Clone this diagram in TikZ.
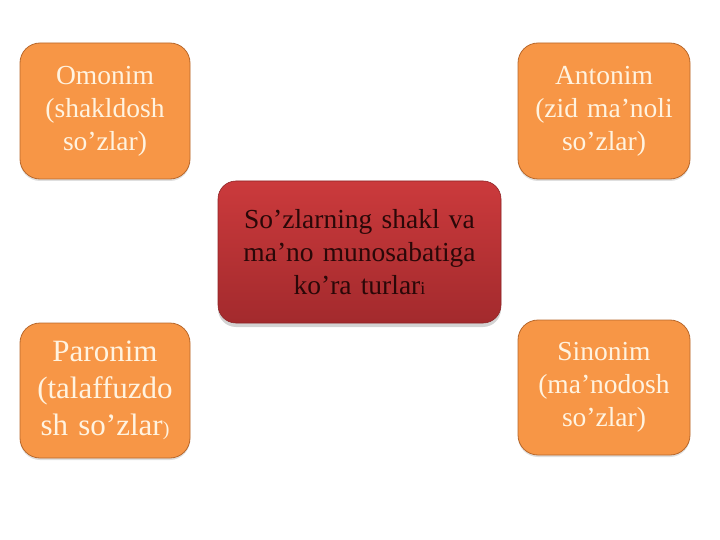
\documentclass[tikz,border=0pt]{standalone}
\usepackage{fontspec}
\setmainfont{Liberation Serif}
\usepackage{tikz}
\usetikzlibrary{shadows}
\definecolor{boxorange}{HTML}{F79646}
\definecolor{boxedge}{HTML}{B8682C}
\definecolor{boxtext}{HTML}{FFF3E0}
\definecolor{redtop}{HTML}{CB3A3C}
\definecolor{redbottom}{HTML}{A32A2D}
\definecolor{rededge}{HTML}{8E2426}
\definecolor{redtext}{HTML}{2A0808}

\begin{document}
\begin{tikzpicture}[x=1pt, y=-1pt,
    kind/.style={draw=boxedge, line width=0.8pt, fill=boxorange, rounded corners=20pt,
        minimum width=170pt, minimum height=136pt, text width=160pt, align=center,
        text=boxtext, font=\fontsize{27.5}{33}\selectfont, inner sep=0pt,
        drop shadow={shadow xshift=0pt, shadow yshift=-2pt, opacity=0.25}},
    topic/.style={draw=rededge, line width=0.6pt, top color=redtop, bottom color=redbottom,
        rounded corners=18pt, minimum width=283pt, minimum height=142pt, text width=270pt,
        align=center, text=redtext, font=\fontsize{27.5}{33}\selectfont, inner sep=0pt,
        drop shadow={shadow xshift=0pt, shadow yshift=-4pt, opacity=0.35}}]
    \useasboundingbox (0, 0) rectangle (720, 540);

    \node [topic] (main) at (359.5, 252) {So’zlarning shakl va\\ma’no munosabatiga\\ko’ra turlar{\fontsize{18}{20}\selectfont i}};

    \node [kind] (omonim) at (105, 111) {Omonim\\(shakldosh\\so’zlar)};
    \node [kind, minimum width=172pt] (antonim) at (604, 111) {Antonim\\(zid ma’noli\\so’zlar)};
    \node [kind, minimum height=135pt, font=\fontsize{31}{37}\selectfont] (paronim) at (105, 390.5) {Paronim\\(talaffuzdo\\sh so’zlar{\fontsize{20}{24}\selectfont )}};
    \node [kind, minimum width=172pt, minimum height=135pt] (sinonim) at (604, 387.5) {Sinonim\\(ma’nodosh\\so’zlar)};
\end{tikzpicture}
\end{document}
